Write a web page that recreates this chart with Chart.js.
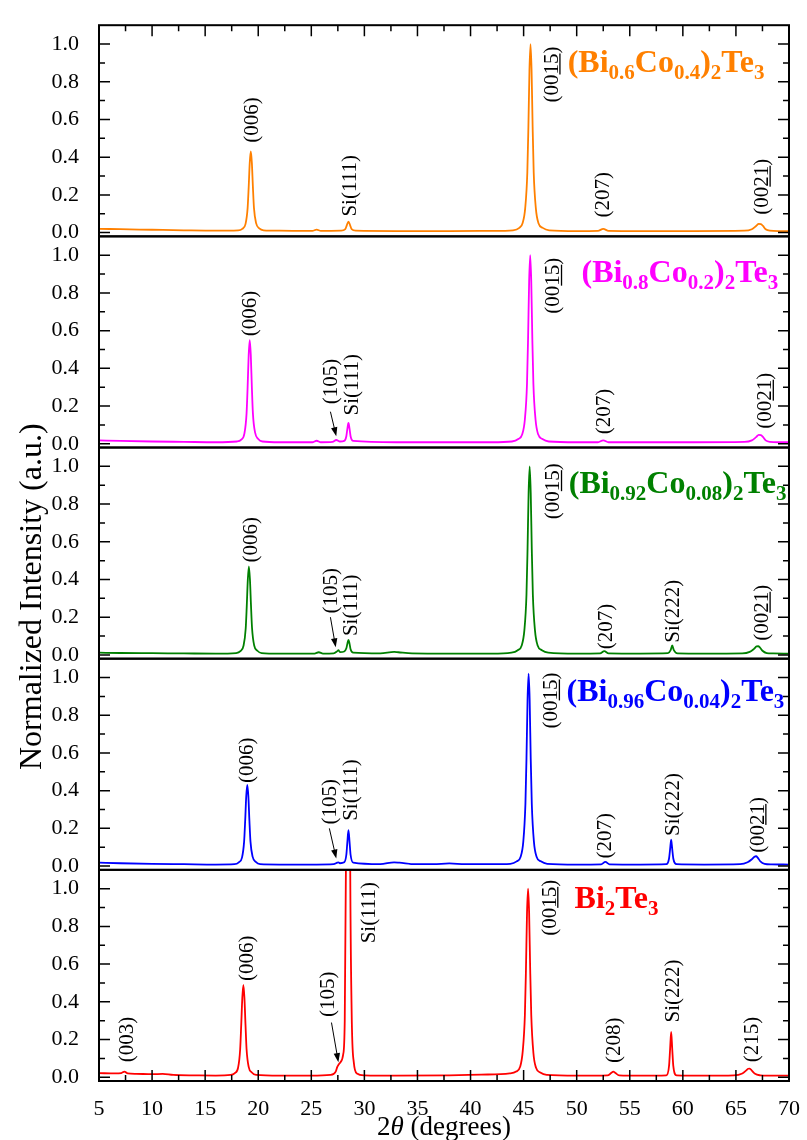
<!DOCTYPE html>
<html>
<head>
<meta charset="utf-8">
<script src="https://cdn.jsdelivr.net/npm/chart.js@4.4.0/dist/chart.umd.min.js"></script>
<style>
  html, body { margin: 0; padding: 0; background: #fff; }
  canvas { display: block; }
</style>
</head>
<body>
<canvas id="xrd" width="807" height="1140"></canvas>
<script>
// 2theta (deg) and normalized intensity for each sample

// (Bi0.6Co0.4)2Te3
const theta_co40 = [5, 7, 10, 13, 16,
  18.1, 18.5, 18.8, 19.0, 19.1, 19.2, 19.3, 19.4, 19.5, 19.6, 19.8, 20.1, 20.5,
  22, 25.1, 25.5, 25.9,
  27.8, 28.2, 28.35, 28.5, 28.65, 28.8, 29.2,
  33, 38, 42,
  44.0, 44.6, 44.9, 45.15, 45.35, 45.45, 45.55, 45.65, 45.75, 45.85, 45.95, 46.15, 46.4, 46.8, 47.4,
  50, 52.0, 52.5, 53.0, 56, 61,
  65.8, 66.5, 66.9, 67.15, 67.35, 67.55, 67.8, 68.2, 69, 70];
const int_co40 = [0.02, 0.018, 0.015, 0.012, 0.01,
  0.012, 0.02, 0.045, 0.13, 0.24, 0.37, 0.43, 0.37, 0.24, 0.13, 0.05, 0.022, 0.012,
  0.01, 0.009, 0.016, 0.009,
  0.01, 0.018, 0.04, 0.058, 0.04, 0.018, 0.01,
  0.008, 0.008, 0.009,
  0.012, 0.025, 0.05, 0.13, 0.32, 0.56, 0.86, 1.0, 0.86, 0.56, 0.32, 0.13, 0.05, 0.025, 0.012,
  0.008, 0.009, 0.02, 0.009, 0.008, 0.008,
  0.01, 0.018, 0.035, 0.046, 0.045, 0.035, 0.018, 0.01, 0.008, 0.008];

// (Bi0.8Co0.2)2Te3
const theta_co20 = [5, 7, 10, 13, 16,
  18.0, 18.4, 18.7, 18.9, 19.0, 19.1, 19.2, 19.3, 19.4, 19.5, 19.7, 20.0, 20.4,
  22, 25.1, 25.5, 25.9,
  27.0, 27.35, 27.7,
  28.1, 28.3, 28.4, 28.5, 28.6, 28.7, 28.95,
  33, 38, 42,
  43.9, 44.5, 44.87, 45.12, 45.32, 45.42, 45.52, 45.62, 45.72, 45.82, 45.92, 46.12, 46.37, 46.77, 47.37,
  50, 52.0, 52.5, 53.0, 56, 61,
  65.8, 66.5, 66.9, 67.15, 67.35, 67.55, 67.8, 68.2, 69, 70];
const int_co20 = [0.018, 0.015, 0.012, 0.01, 0.008,
  0.012, 0.022, 0.055, 0.16, 0.3, 0.47, 0.55, 0.47, 0.3, 0.16, 0.06, 0.025, 0.012,
  0.008, 0.008, 0.016, 0.008,
  0.01, 0.02, 0.012,
  0.015, 0.04, 0.08, 0.11, 0.08, 0.04, 0.015,
  0.008, 0.008, 0.008,
  0.012, 0.025, 0.05, 0.13, 0.32, 0.56, 0.86, 1.0, 0.86, 0.56, 0.32, 0.13, 0.05, 0.025, 0.012,
  0.008, 0.008, 0.018, 0.008, 0.008, 0.008,
  0.01, 0.018, 0.035, 0.047, 0.046, 0.036, 0.018, 0.01, 0.008, 0.008];

// (Bi0.92Co0.08)2Te3
const theta_co08 = [5, 7, 10, 13, 16,
  17.92, 18.32, 18.62, 18.82, 18.92, 19.02, 19.12, 19.22, 19.32, 19.42, 19.62, 19.92, 20.32,
  22, 25.3, 25.7, 26.1,
  27.1, 27.45, 27.55, 27.7,
  28.1, 28.3, 28.4, 28.5, 28.6, 28.7, 28.95,
  31.5, 32.8, 33.2, 34.5, 38, 42,
  43.85, 44.45, 44.82, 45.07, 45.27, 45.37, 45.47, 45.57, 45.67, 45.77, 45.87, 46.07, 46.32, 46.72, 47.32,
  50, 52.2, 52.6, 53.0, 56,
  58.6, 58.85, 59.0, 59.15, 59.5, 62,
  65.6, 66.3, 66.7, 66.95, 67.1, 67.25, 67.5, 67.9, 68.5, 70];
const int_co08 = [0.012, 0.01, 0.009, 0.008, 0.007,
  0.01, 0.02, 0.05, 0.14, 0.26, 0.4, 0.47, 0.4, 0.26, 0.14, 0.05, 0.022, 0.01,
  0.007, 0.007, 0.014, 0.007,
  0.008, 0.02, 0.025, 0.015,
  0.018, 0.035, 0.06, 0.08, 0.06, 0.03, 0.012,
  0.008, 0.016, 0.014, 0.008, 0.007, 0.007,
  0.012, 0.025, 0.05, 0.13, 0.32, 0.56, 0.86, 1.0, 0.86, 0.56, 0.32, 0.13, 0.05, 0.025, 0.012,
  0.007, 0.008, 0.02, 0.008, 0.007,
  0.009, 0.025, 0.05, 0.025, 0.008, 0.007,
  0.008, 0.016, 0.032, 0.045, 0.046, 0.04, 0.022, 0.01, 0.008, 0.007];

// (Bi0.96Co0.04)2Te3
const theta_co04 = [5, 7, 10, 13, 16,
  17.77, 18.17, 18.47, 18.67, 18.77, 18.87, 18.97, 19.07, 19.17, 19.27, 19.47, 19.77, 20.17,
  22, 25.5,
  27.1, 27.45, 27.55, 27.7,
  28.1, 28.3, 28.4, 28.5, 28.6, 28.7, 28.95,
  31.5, 32.8, 33.3, 34.8, 36.5, 38.0, 39.5, 42,
  43.75, 44.35, 44.72, 44.97, 45.17, 45.27, 45.37, 45.47, 45.57, 45.67, 45.77, 45.97, 46.22, 46.62, 47.22,
  50, 52.3, 52.7, 53.1, 56,
  58.45, 58.7, 58.8, 58.9, 59.0, 59.1, 59.4, 62,
  65.4, 66.1, 66.5, 66.75, 66.9, 67.05, 67.3, 67.7, 68.4, 70];
const int_co04 = [0.018, 0.015, 0.012, 0.01, 0.008,
  0.01, 0.02, 0.045, 0.13, 0.24, 0.37, 0.43, 0.37, 0.24, 0.13, 0.05, 0.022, 0.01,
  0.008, 0.008,
  0.01, 0.018, 0.02, 0.015,
  0.02, 0.06, 0.13, 0.19, 0.13, 0.06, 0.018,
  0.01, 0.02, 0.018, 0.01, 0.01, 0.014, 0.01, 0.01,
  0.012, 0.025, 0.05, 0.13, 0.33, 0.57, 0.88, 1.02, 0.88, 0.57, 0.33, 0.13, 0.05, 0.025, 0.012,
  0.008, 0.009, 0.022, 0.009, 0.008,
  0.01, 0.04, 0.09, 0.14, 0.09, 0.04, 0.01, 0.008,
  0.01, 0.02, 0.036, 0.05, 0.052, 0.045, 0.025, 0.012, 0.009, 0.008];

// Bi2Te3 (Si(111) runs off the top of its panel)
const theta_bt = [5, 6.5, 7.1, 7.4, 7.7, 8.5,
  10, 11, 12, 14, 16,
  17.4, 17.8, 18.1, 18.3, 18.4, 18.5, 18.6, 18.7, 18.8, 18.9, 19.1, 19.4, 19.8,
  22, 25,
  26.8, 27.3, 27.45, 27.55, 27.75, 28.0, 28.15, 28.3, 28.47, 28.65, 28.8, 29.0, 29.3, 30,
  33, 38, 41,
  43.7, 44.3, 44.67, 44.92, 45.12, 45.22, 45.32, 45.42, 45.52, 45.62, 45.72, 45.92, 46.17, 46.57, 47.17,
  50, 52.9, 53.25, 53.45, 53.65, 54.0, 56,
  58.45, 58.7, 58.8, 58.9, 59.0, 59.1, 59.4, 62,
  64.8, 65.6, 65.95, 66.15, 66.3, 66.5, 66.8, 67.3, 68, 70];
const int_bt = [0.022, 0.02, 0.022, 0.03, 0.02, 0.018,
  0.016, 0.018, 0.012, 0.01, 0.009,
  0.012, 0.022, 0.05, 0.15, 0.28, 0.42, 0.49, 0.42, 0.28, 0.15, 0.055, 0.025, 0.012,
  0.008, 0.008,
  0.012, 0.03, 0.055, 0.065, 0.08, 0.12, 0.3, 1.4, 5.0, 1.3, 0.35, 0.08, 0.02, 0.01,
  0.008, 0.01, 0.014,
  0.02, 0.03, 0.055, 0.14, 0.33, 0.57, 0.87, 1.0, 0.87, 0.57, 0.33, 0.13, 0.05, 0.025, 0.012,
  0.008, 0.01, 0.022, 0.03, 0.022, 0.01, 0.008,
  0.01, 0.06, 0.15, 0.24, 0.15, 0.06, 0.01, 0.008,
  0.01, 0.02, 0.035, 0.045, 0.046, 0.035, 0.018, 0.01, 0.008, 0.008];

// tick values
const xTickValues = [5, 10, 15, 20, 25, 30, 35, 40, 45, 50, 55, 60, 65, 70];
const yTickValues = [0, 0.2, 0.4, 0.6, 0.8, 1.0];

// peak labels: [text, 2theta, intensity where the text starts]; [..] = underlined
const peaks_co40 = [['(006)', 19.5, 0.476], ['Si(111)', 28.65, 0.085], ['(00[15])', 47.7, 0.69],
  ['(207)', 52.5, 0.08], ['(00[21])', 67.5, 0.095]];
const peaks_co20 = [['(006)', 19.3, 0.57], ['(105)', 26.9, 0.21], ['Si(111)', 28.85, 0.15],
  ['(00[15])', 47.85, 0.69], ['(207)', 52.6, 0.05], ['(00[21])', 67.8, 0.08]];
const peaks_co08 = [['(006)', 19.4, 0.49], ['(105)', 26.9, 0.22], ['Si(111)', 28.8, 0.1],
  ['(00[15])', 47.85, 0.72], ['(207)', 52.8, 0.03], ['Si(222)', 59.1, 0.065], ['(00[21])', 67.5, 0.075]];
const peaks_co04 = [['(006)', 19.0, 0.44], ['(105)', 26.8, 0.22], ['Si(111)', 28.75, 0.24],
  ['(00[15])', 47.65, 0.73], ['(207)', 52.7, 0.04], ['Si(222)', 59.1, 0.16], ['(00[21])', 67.1, 0.07]];
const peaks_bt = [['(003)', 7.7, 0.08], ['(006)', 18.95, 0.51], ['(105)', 26.6, 0.32], ['Si(111)', 30.45, 0.71],
  ['(00[15])', 47.5, 0.75], ['(208)', 53.55, 0.075], ['Si(222)', 59.15, 0.29], ['(215)', 66.6, 0.08]];

// (105) arrows: [from 2theta, from I, to 2theta, to I]
const arrows_co20 = [[26.8, 0.17, 27.35, 0.04]];
const arrows_co08 = [[26.8, 0.2, 27.3, 0.04]];
const arrows_co04 = [[26.7, 0.2, 27.35, 0.04]];
const arrows_bt = [[26.9, 0.29, 27.55, 0.08]];

const panels = [
  { axis: 'yA', color: '#ff8000', theta: theta_co40, inten: int_co40, peaks: peaks_co40, arrows: [],
    name: '(Bi_{0.6}Co_{0.4})_{2}Te_{3}', nameAt: [49.15, 0.852] },
  { axis: 'yB', color: '#ff00ff', theta: theta_co20, inten: int_co20, peaks: peaks_co20, arrows: arrows_co20,
    name: '(Bi_{0.8}Co_{0.2})_{2}Te_{3}', nameAt: [50.45, 0.856] },
  { axis: 'yC', color: '#008000', theta: theta_co08, inten: int_co08, peaks: peaks_co08, arrows: arrows_co08,
    name: '(Bi_{0.92}Co_{0.08})_{2}Te_{3}', nameAt: [49.25, 0.86] },
  { axis: 'yD', color: '#0000ff', theta: theta_co04, inten: int_co04, peaks: peaks_co04, arrows: arrows_co04,
    name: '(Bi_{0.96}Co_{0.04})_{2}Te_{3}', nameAt: [49.05, 0.873] },
  { axis: 'yE', color: '#ff0000', theta: theta_bt, inten: int_bt, peaks: peaks_bt, arrows: arrows_bt,
    name: 'Bi_{2}Te_{3}', nameAt: [49.8, 0.9] }
];

const SERIF = '"Liberation Serif", "Times New Roman", serif';

function drawRotated(ctx, text, px, py) {
  ctx.save();
  ctx.translate(px, py);
  ctx.rotate(-Math.PI / 2);
  ctx.textAlign = 'left';
  ctx.textBaseline = 'middle';
  let x = 0;
  for (const part of text.split(/(\[[^\]]*\])/).filter(Boolean)) {
    const ul = part.startsWith('[');
    const t = ul ? part.slice(1, -1) : part;
    ctx.fillText(t, x, 0);
    const w = ctx.measureText(t).width;
    if (ul) ctx.fillRect(x, 7, w, 1.3);
    x += w;
  }
  ctx.restore();
}

function drawFormula(ctx, str, px, py) {
  let x = px;
  for (const part of str.split(/(_\{[^}]*\})/).filter(Boolean)) {
    const sub = part.startsWith('_{');
    const t = sub ? part.slice(2, -1) : part;
    ctx.font = sub ? 'bold 21px ' + SERIF : 'bold 32px ' + SERIF;
    ctx.fillText(t, x, sub ? py + 7 : py);
    x += ctx.measureText(t).width;
  }
}

function drawArrow(ctx, x1, y1, x2, y2) {
  const a = Math.atan2(y2 - y1, x2 - x1);
  const L = 9, W = 3.2;
  ctx.beginPath();
  ctx.moveTo(x1, y1);
  ctx.lineTo(x2 - 6 * Math.cos(a), y2 - 6 * Math.sin(a));
  ctx.stroke();
  ctx.beginPath();
  ctx.moveTo(x2, y2);
  ctx.lineTo(x2 - L * Math.cos(a) + W * Math.sin(a), y2 - L * Math.sin(a) - W * Math.cos(a));
  ctx.lineTo(x2 - L * Math.cos(a) - W * Math.sin(a), y2 - L * Math.sin(a) + W * Math.cos(a));
  ctx.closePath();
  ctx.fill();
}

// frames, inward ticks, peak labels and titles
const decorations = {
  id: 'decorations',
  afterDraw(chart) {
    const ctx = chart.ctx;
    const xs = chart.scales.x;
    const left = xs.left, right = xs.right;

    panels.forEach((p, i) => {
      const ys = chart.scales[p.axis];
      const top = ys.top, bottom = ys.bottom;

      // sample name
      ctx.save();
      ctx.beginPath();
      ctx.rect(left, top, right - left, bottom - top);
      ctx.clip();
      ctx.fillStyle = p.color;
      ctx.textAlign = 'left';
      ctx.textBaseline = 'alphabetic';
      drawFormula(ctx, p.name, xs.getPixelForValue(p.nameAt[0]), ys.getPixelForValue(p.nameAt[1]));
      ctx.restore();

      // peak indices
      ctx.save();
      ctx.fillStyle = '#000';
      ctx.strokeStyle = '#000';
      ctx.lineWidth = 1;
      ctx.font = '21px ' + SERIF;
      p.peaks.forEach(([t, x, y]) => drawRotated(ctx, t, xs.getPixelForValue(x), ys.getPixelForValue(y)));
      p.arrows.forEach(([x1, y1, x2, y2]) => drawArrow(ctx,
        xs.getPixelForValue(x1), ys.getPixelForValue(y1), xs.getPixelForValue(x2), ys.getPixelForValue(y2)));
      ctx.restore();

      // frame + inward ticks (major 0.2 / minor 0.1, major 5 / minor 2.5)
      ctx.save();
      ctx.strokeStyle = '#000';
      ctx.lineWidth = 1.5;
      ctx.beginPath();
      for (let k = 0; k <= 10; k++) {
        const py = ys.getPixelForValue(k / 10);
        const len = k % 2 === 0 ? 11 : 6;
        ctx.moveTo(left, py); ctx.lineTo(left + len, py);
        ctx.moveTo(right, py); ctx.lineTo(right - len, py);
      }
      for (let k = 0; k <= 26; k++) {
        const px = xs.getPixelForValue(5 + 2.5 * k);
        const len = k % 2 === 0 ? 11 : 6;
        if (i === 0) { ctx.moveTo(px, top); ctx.lineTo(px, top + len); }
        if (i === panels.length - 1) { ctx.moveTo(px, bottom); ctx.lineTo(px, bottom - len); }
      }
      ctx.stroke();
      ctx.lineWidth = 2;
      ctx.strokeRect(left, top, right - left, bottom - top);
      ctx.restore();
    });

    // axis titles
    ctx.save();
    ctx.fillStyle = '#000';
    ctx.textBaseline = 'alphabetic';
    const parts = [['2', '27px '], ['\u03b8', 'italic 27px '], [' (degrees)', '27px ']];
    let total = 0;
    parts.forEach(([t, f]) => { ctx.font = f + SERIF; total += ctx.measureText(t).width; });
    let tx = (left + right) / 2 - total / 2;
    parts.forEach(([t, f]) => { ctx.font = f + SERIF; ctx.fillText(t, tx, 1135); tx += ctx.measureText(t).width; });

    ctx.translate(41, 770);
    ctx.rotate(-Math.PI / 2);
    ctx.font = '32px ' + SERIF;
    ctx.textAlign = 'left';
    ctx.fillText('Normalized Intensity (a.u.)', 0, 0);
    ctx.restore();
  }
};

const tickFont = { family: SERIF, size: 22 };

const scales = {
  x: {
    type: 'linear', position: 'bottom', min: 5, max: 70,
    grid: { display: false },
    border: { display: false },
    ticks: { color: '#000', font: tickFont, padding: 7, autoSkip: false, maxRotation: 0 },
    afterBuildTicks: s => { s.ticks = xTickValues.map(v => ({ value: v })); },
    afterFit: s => { s.height = 59; }
  }
};
panels.forEach((p, i) => {
  scales[p.axis] = {
    type: 'linear', position: 'left', stack: 'xrd', stackWeight: 1, weight: panels.length - i,
    min: -0.02, max: 1.1,
    grid: { display: false },
    border: { display: false },
    ticks: {
      color: '#000', font: tickFont, padding: 12, autoSkip: false,
      callback: v => v.toFixed(1)
    },
    afterBuildTicks: s => { s.ticks = yTickValues.map(v => ({ value: v })); },
    afterFit: s => { s.width = 99; }
  };
});

new Chart(document.getElementById('xrd'), {
  type: 'line',
  data: {
    datasets: panels.map(p => ({
      data: p.theta.map((t, i) => ({ x: t, y: p.inten[i] })),
      yAxisID: p.axis,
      borderColor: p.color,
      borderWidth: 1.8,
      pointRadius: 0,
      fill: false,
      cubicInterpolationMode: 'monotone'
    }))
  },
  options: {
    responsive: false,
    animation: false,
    events: [],
    layout: { padding: { top: 20, right: 13, left: 0, bottom: 0 } },
    plugins: { legend: { display: false }, tooltip: { enabled: false } },
    scales
  },
  plugins: [decorations]
});
</script>
</body>
</html>
